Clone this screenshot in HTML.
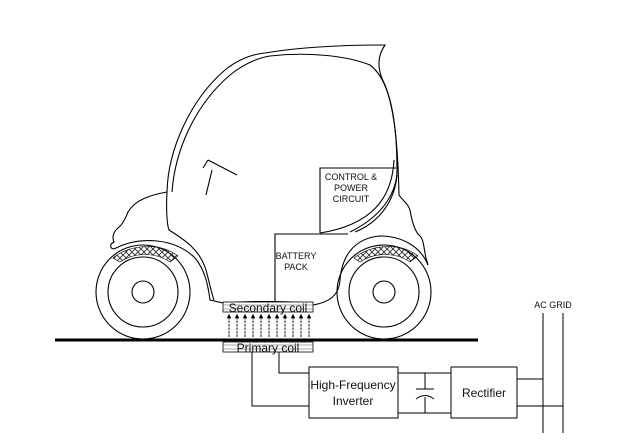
<!DOCTYPE html>
<html><head><meta charset="utf-8"><style>
html,body{margin:0;padding:0;background:#fff;}
svg{display:block;}
text{font-family:"Liberation Sans",sans-serif;fill:#111;}
</style></head><body>
<svg width="635" height="443" viewBox="0 0 635 443" xmlns="http://www.w3.org/2000/svg">
<defs>
<pattern id="hx" width="6" height="6" patternUnits="userSpaceOnUse">
<path d="M0 0L6 6M6 0L0 6" stroke="#222" stroke-width="0.8"/>
</pattern>
<marker id="ah" markerWidth="5" markerHeight="5" refX="2.5" refY="2.5" orient="auto"><path d="M0 0L5 2.5L0 5z" fill="#000"/></marker>
</defs>
<g fill="none" stroke="#000" stroke-width="1.1">
<path d="M167 192 C168 150 190 100 225 70 C240 58 255 54 265 53 C300 47 340 45 385 45 C378 55 376 68 385 85 C395 110 398 150 399 195 C402 200 408 203 410 210 C412 222 415 232 420 236 C424 240 424 250 426 258 L428 265"/>
<path d="M172 192 C175 150 195 105 230 75 C245 63 258 58 270 56 C305 52 345 55 370 65 C390 80 397 120 397 170"/>
<path d="M397 170 C397 190 385 215 350 232 M397 175 C395 200 380 222 355 232 M394 160 C392 200 370 225 320 233"/>
<path d="M167 192 C150 195 135 200 128 212 C125 220 122 225 118 228 C113 232 112 238 114 242 L111 244 C110 248 112 250 116 248"/>
<path d="M167 192 C166 210 167 225 169 230 C185 240 200 250 206 270 C210 285 212 295 214 300"/>
<path d="M116 248 C140 236 175 238 195 258 C205 270 208 285 210 300 L223 303"/>
<path d="M428 265 C420 245 400 236 380 236 C355 238 342 255 340 280 C339 295 330 302 313 305"/>
<path d="M223 303 C250 301 280 301 313 303"/>
<path d="M320 233 L320 168 L396 168"/>
<path d="M275 301 L275 234 L348 234"/>
<path d="M208 160 L237 175 M208 160 L203 168 M212 170 L206 195"/>
<circle cx="143" cy="292" r="47"/><circle cx="143" cy="292" r="35"/><circle cx="143" cy="292" r="11"/>
<circle cx="384" cy="292" r="47"/><circle cx="384" cy="292" r="35"/><circle cx="384" cy="292" r="11"/>
</g>
<path d="M113 258 C130 244 160 242 178 256 L170 262 C155 252 135 252 120 262 Z" fill="url(#hx)" stroke="#000" stroke-width="0.6"/>
<path d="M354 258 C372 244 400 242 418 256 L410 262 C395 252 375 252 360 262 Z" fill="url(#hx)" stroke="#000" stroke-width="0.6"/>
<line x1="55" y1="340" x2="478" y2="340" stroke="#000" stroke-width="3"/>
<g stroke="#000" stroke-width="0.8" fill="#fff">
<rect x="223" y="302" width="90" height="10"/>
<rect x="223" y="342" width="90" height="10"/>
</g>
<g stroke="#555" stroke-width="0.5">
<line x1="223" y1="305" x2="313" y2="305"/><line x1="223" y1="309" x2="313" y2="309"/>
<line x1="223" y1="345" x2="313" y2="345"/><line x1="223" y1="349" x2="313" y2="349"/>
</g>
<text x="268" y="312" font-size="12" text-anchor="middle">Secondary coil</text>
<text x="268" y="352" font-size="12" text-anchor="middle">Primary coil</text>
<g stroke="#000" stroke-width="0.9" stroke-dasharray="2.5,1" marker-end="url(#ah)">
<line x1="229" y1="337" x2="229" y2="316"/><line x1="237" y1="337" x2="237" y2="316"/><line x1="245" y1="337" x2="245" y2="316"/><line x1="253" y1="337" x2="253" y2="316"/><line x1="261" y1="337" x2="261" y2="316"/><line x1="269" y1="337" x2="269" y2="316"/><line x1="277" y1="337" x2="277" y2="316"/><line x1="285" y1="337" x2="285" y2="316"/><line x1="293" y1="337" x2="293" y2="316"/><line x1="301" y1="337" x2="301" y2="316"/><line x1="309" y1="337" x2="309" y2="316"/>
</g>
<g fill="none" stroke="#000" stroke-width="1">
<path d="M252 352 L252 406 L309 406 M279 352 L279 373 L309 373"/>
<rect x="309" y="367" width="89" height="51"/>
<rect x="451" y="367" width="66" height="51"/>
<path d="M398 373 L451 373 M398 413 L451 413 M425 373 L425 389 M425 397 L425 413"/>
<path d="M416 389 L434 389 M416 399 Q425 392 434 399"/>
<path d="M517 379 L543 379 M517 406 L563 406 M543 313 L543 433 M563 313 L563 433"/>
</g>
<text x="353" y="389" font-size="12" text-anchor="middle">High-Frequency</text>
<text x="353" y="405" font-size="12" text-anchor="middle">Inverter</text>
<text x="484" y="397" font-size="12" text-anchor="middle">Rectifier</text>
<text x="553" y="308" font-size="9" text-anchor="middle">AC GRID</text>
<text x="351" y="180" font-size="9" text-anchor="middle">CONTROL &amp;</text>
<text x="351" y="191" font-size="9" text-anchor="middle">POWER</text>
<text x="351" y="202" font-size="9" text-anchor="middle">CIRCUIT</text>
<text x="296" y="259" font-size="9" text-anchor="middle">BATTERY</text>
<text x="296" y="270" font-size="9" text-anchor="middle">PACK</text>
</svg>
</body></html>
